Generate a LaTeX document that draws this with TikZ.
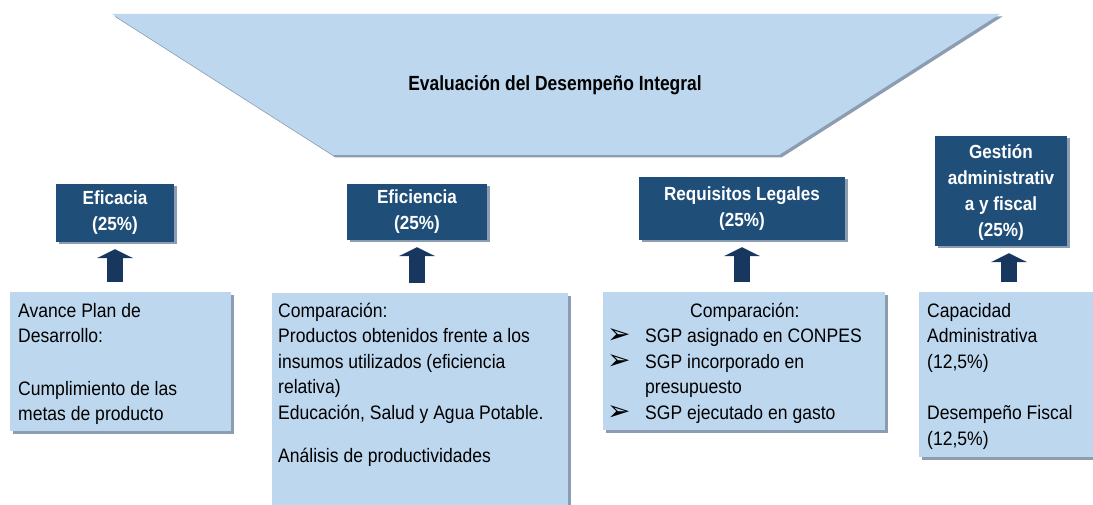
\documentclass[tikz,border=0pt]{standalone}
\usepackage{fontspec}
\setmainfont{Liberation Sans}[FakeStretch=0.9]
\newfontfamily\headfont{Liberation Sans}[FakeStretch=0.9]
\newfontfamily\titlefont{Liberation Sans}[FakeStretch=0.85]
\newfontfamily\dejavu{DejaVu Sans}
\usetikzlibrary{shadows,arrows.meta}
\definecolor{lightbox}{HTML}{BDD7EE}
\definecolor{darkbox}{HTML}{1F4E79}
\definecolor{arrowc}{HTML}{17375E}
\definecolor{shadowc}{HTML}{8C9CB1}
\newcommand{\bul}{\makebox[38pt][l]{\raisebox{-1pt}{\dejavu\fontsize{28}{28}\selectfont ➢}}}
\tikzset{
  sh/.style={general shadow={fill=shadowc, shadow xshift=2.5pt, shadow yshift=-2.5pt}},
  headbox/.style={sh, fill=darkbox, text=white, align=center, inner sep=0pt,
    font=\headfont\fontsize{19}{26}\selectfont\bfseries},
  infobox/.style={sh, fill=lightbox, anchor=north west, inner ysep=0pt,
    font=\fontsize{19.5}{25.5}\selectfont},
  bigarrow/.style={draw=arrowc, line width=16pt, shorten <=10pt, shorten >=7pt,
    -{Triangle[width=36pt,length=9pt]}, arrowc}
}
\begin{document}
\begin{tikzpicture}[x=1pt,y=-1pt]
\useasboundingbox (0,0) rectangle (1093,505);
% funnel
\path[sh, fill=lightbox] (112,14) -- (1000,14) -- (779,155) -- (333,155) -- cycle;
\node[font=\titlefont\fontsize{20.5}{24}\selectfont\bfseries] (title) at (555,85) {Evaluación del Desempeño Integral};
% header boxes
\node[headbox, minimum width=118pt, minimum height=58pt] (e1) at (115,213) {Eficacia\\(25\%)};
\node[headbox, minimum width=140pt, minimum height=56pt] (e2) at (417,212) {Eficiencia\\(25\%)};
\node[headbox, minimum width=206pt, minimum height=63pt] (e3) at (742,208.5) {Requisitos Legales\\(25\%)};
\node[headbox, minimum width=132pt, minimum height=110pt] (e4) at (1001,191) {\rule{0pt}{16pt}Gestión\\administrativ\\a y fiscal\\(25\%)};
% info boxes
\node[infobox, inner xsep=8pt] (b1) at (10,292)
  {\parbox[c][139pt][t]{205pt}{\rule{0pt}{25pt}Avance Plan de\\Desarrollo:\\[27pt]Cumplimiento de las\\metas de producto}};
\node[infobox, inner xsep=6pt] (b2) at (272,293)
  {\parbox[c][235pt][t]{284pt}{\rule{0pt}{24pt}Comparación:\\Productos obtenidos frente a los\\insumos utilizados (eficiencia\\relativa)\\Educación, Salud y Agua Potable.\\[18pt]Análisis de productividades}};
\node[infobox, inner xsep=4pt] (b3) at (603,292)
  {\parbox[c][138pt][t]{274pt}{\rule{0pt}{25pt}\hspace*{83pt}Comparación:\\
   \bul SGP asignado en CONPES\\
   \bul SGP incorporado en\\
   \hspace*{38pt}presupuesto\\
   \bul SGP ejecutado en gasto}};
\node[infobox, inner xsep=8pt] (b4) at (919,292)
  {\parbox[c][165pt][t]{180pt}{\rule{0pt}{25pt}Capacidad\\Administrativa\\(12,5\%)\\[26pt]Desempeño Fiscal\\(12,5\%)}};
% arrows
\draw[bigarrow] (b1.north -| e1.south) -- (e1.south);
\draw[bigarrow] (b2.north -| e2.south) -- (e2.south);
\draw[bigarrow] (b3.north -| e3.south) -- (e3.south);
\draw[bigarrow] ([xshift=8pt]b4.north -| e4.south) -- ([xshift=8pt]e4.south);
\end{tikzpicture}
\end{document}
